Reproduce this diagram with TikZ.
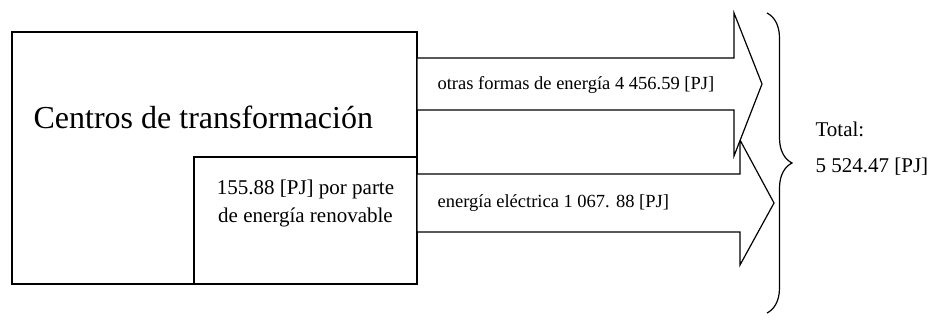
\documentclass[tikz,border=0pt]{standalone}
\usepackage{fontspec}
\setmainfont{Liberation Serif}
\usepackage{tikz}
\usetikzlibrary{decorations.pathreplacing}

\begin{document}
\begin{tikzpicture}[x=1pt, y=-1pt, line width=1.2pt]
    \useasboundingbox (0, 0) rectangle (939, 320);
    % boxes
    \draw (12, 32) rectangle (417, 284);
    \draw (194, 157) rectangle (417, 284);
    \node[anchor=base west, inner sep=0pt, font=\fontsize{32}{36}\selectfont] (centros) at (33, 129) {Centros de transformaci\'on};
    \node[align=center, inner sep=0pt, font=\fontsize{21}{28}\selectfont] (renovable) at (305.5, 203) {155.88 [PJ] por parte\\de energ\'ia renovable};
    % arrows
    \draw[fill=white] (417, 174) -- (740, 174) -- (740, 140) -- (774, 203) -- (740, 265) -- (740, 232) -- (417, 232) -- cycle;
    \draw[fill=white] (417, 58) -- (734, 58) -- (734, 13) -- (762, 84) -- (734, 156) -- (734, 110) -- (417, 110) -- cycle;
    \node[anchor=base west, inner sep=0pt, font=\fontsize{18.5}{22}\selectfont] (otras) at (437, 90) {otras formas de energ\'ia 4 456.59 [PJ]};
    \node[anchor=base west, inner sep=0pt, font=\fontsize{18.5}{22}\selectfont] (electrica) at (437, 208) {energ\'ia el\'ectrica 1 067. 88 [PJ]};
    % total
    \draw[decorate, decoration={brace, amplitude=25pt}] (767, 13) -- (767, 313);
    \node[anchor=base west, inner sep=0pt, font=\fontsize{21}{24}\selectfont] (total) at (815, 137) {Total:};
    \node[anchor=base west, inner sep=0pt, font=\fontsize{21}{24}\selectfont] (suma) at (815, 173) {5 524.47 [PJ]};
\end{tikzpicture}
\end{document}
